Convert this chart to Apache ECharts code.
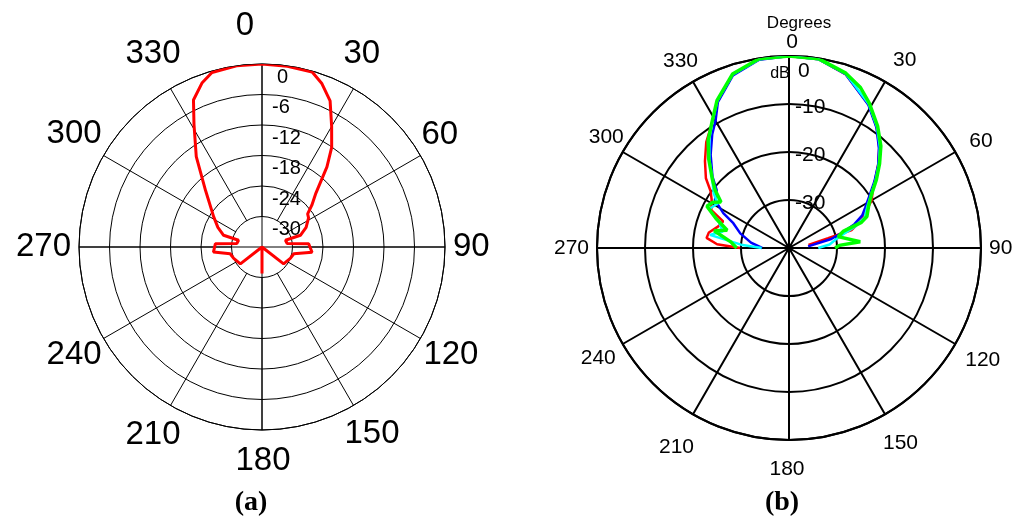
<!DOCTYPE html>
<html>
<head>
<meta charset="utf-8">
<script src="https://cdn.jsdelivr.net/npm/echarts@6/dist/echarts.min.js"></script>
<style>
  html, body { margin: 0; padding: 0; background: #fff; }
  #chart { width: 1024px; height: 530px; }
</style>
</head>
<body>
<div id="chart"></div>
<script>
"use strict";

// (a) 单条红色方向图 (dB)
var angleA = [0, 8, 16, 20, 25, 30, 35, 39, 45, 50, 54, 58, 66, 73, 74, 82, 86, 96, 102, 112, 128, 135, 180, 225, 232, 248, 258, 264, 274, 278, 286, 287, 294, 302, 315, 324, 331, 335, 340, 344, 352, 360];
var valueA = [0, -0.1, -0.2, -1.7, -4.3, -8.6, -12.1, -15.7, -21, -23.2, -24.9, -25.2, -26.5, -28.1, -31.2, -31, -26.8, -26.1, -29.6, -30, -30.6, -36, -30.8, -36, -30.6, -30, -29.6, -26.4, -26.8, -31, -31.2, -28.1, -26.5, -24.8, -20.3, -14, -8.4, -4.1, -1.6, -0.3, 0, 0];
var ticksA = [-36, -30, -24, -18, -12, -6, 0];

// (b) 四条曲线，只画前半球 270 -> 0 -> 90
var angleRed = [270, 273, 277, 281, 287, 292, 296, 302, 306, 310, 316, 322, 328, 334, 342, 351, 0, 9, 18, 29, 36, 42, 47, 52, 56, 60, 65.5, 70, 74, 76, 81];
var valueRed = [-29.8, -25, -22.7, -23, -24.6, -25.2, -22, -21, -19.8, -17.4, -14.8, -12, -9.6, -6, -2, -0.2, 0, -0.2, -1.9, -5.8, -8.9, -11.9, -14.6, -17.3, -19, -20.1, -22.6, -24.5, -26.4, -31.6, -35.9];

var angleBlue = [270, 278, 286.7, 294, 298, 303, 308.7, 313, 320, 326, 330, 334, 342, 351, 0, 9, 18, 29, 36, 42, 47, 52, 57, 62, 66, 70, 74, 78, 85];
var valueBlue = [-34.4, -32, -29.4, -27.3, -24.5, -21.6, -20.7, -18.2, -14.6, -11.4, -9.4, -6.2, -2.2, -0.3, 0, -0.2, -1.9, -5.9, -9, -12, -14.6, -17.4, -20, -22, -23.3, -25.5, -28.5, -31, -36];

var angleCyan = [270, 274, 279.4, 284, 290, 296, 302, 306, 312, 318, 324, 329, 334, 342, 351, 0, 9, 18, 29, 36, 42, 47, 52, 57, 62, 68, 72, 76, 80, 85, 90];
var valueCyan = [-34.3, -30, -23.3, -25.8, -24.5, -21.5, -22.5, -20.6, -18.5, -15.2, -11.8, -9.1, -5.9, -2, -0.2, 0, -0.2, -1.8, -5.7, -8.8, -11.7, -14.4, -17.1, -19.6, -21.5, -23, -25.5, -28.5, -30.2, -31.5, -33.9];

var angleGreen = [270, 276, 283, 286, 292, 297, 301, 304, 308, 312, 318, 323, 329, 334, 342, 351, 0, 9, 18, 24, 29, 36, 42, 47, 52, 57, 62, 68, 70.5, 73, 77, 85, 87, 90];
var valueGreen = [-29.1, -27.8, -24, -26.6, -23.6, -20.8, -21.5, -22.9, -20.5, -18.5, -15, -12, -9, -5.8, -1.9, -0.1, 0, -0.1, -1.7, -3.4, -5.5, -8.6, -11.4, -14.2, -16.9, -19.5, -21.2, -22.5, -24, -28.2, -29.5, -25.1, -29.5, -30.4];
var ticksB = [-40, -30, -20, -10, 0];

var angleTicks = [0, 30, 60, 90, 120, 150, 180, 210, 240, 270, 300, 330];

// 角度标签的微调 [dx, dy]，原图的标签不是严格贴着圆放的
var labelShiftA = { 0: [-17, -14], 30: [-14, -11], 60: [-6, 0], 120: [-4, -4], 150: [-13, 5], 180: [1, 6], 210: [14, 6], 240: [5, -4], 300: [5, -1], 330: [14, -11] };
var labelShiftB = { 0: [3, 5], 30: [4, -4], 60: [7, 4], 120: [3, 2], 150: [-6, 11], 180: [-2, 11], 210: [5, 15], 300: [8, 0], 330: [9, -3] };

var FONT = 'Liberation Sans';

// 把角度和数值组合成 [r, angle]
function toPolar(angles, values) {
	var out = [];
	for (var i = 0; i < angles.length; i++) {
		out.push([values[i], angles[i]]);
	}
	return out;
}

// 按 ECharts 的对齐方式把 [dx, dy] 换成 rich 的 padding
function buildRich(prefix, shifts, size) {
	var rich = {};
	for (var i = 0; i < angleTicks.length; i++) {
		var a = angleTicks[i];
		var s = shifts[a] || [0, 0];
		var dx = s[0], dy = s[1];
		var sn = Math.sin(a * Math.PI / 180), cs = Math.cos(a * Math.PI / 180);
		var pad = [0, 0, 0, 0];
		if (Math.abs(sn) < 0.3) {
			if (dx > 0) pad[3] = 2 * dx; else pad[1] = -2 * dx;
		} else if (sn > 0) {
			pad[3] = dx;
		} else {
			pad[1] = -dx;
		}
		if (Math.abs(cs) < 0.3) {
			if (dy > 0) pad[0] = 2 * dy; else pad[2] = -2 * dy;
		} else if (cs > 0) {
			pad[2] = -dy;
		} else {
			pad[0] = dy;
		}
		rich[prefix + a] = { fontFamily: FONT, fontSize: size, color: '#000', padding: pad };
	}
	return rich;
}

function angleFormatter(prefix) {
	return function (v) {
		if (v === 360) return '';
		return '{' + prefix + v + '|' + v + '}';
	};
}

var centerA = [262, 247];
var centerB = [789, 248];

var myChart = echarts.init(document.getElementById('chart'), null, { renderer: 'canvas' });

var captionRich = {
	p: { fontFamily: 'Liberation Serif', fontSize: 28, color: '#000' },
	b: { fontFamily: 'Liberation Serif', fontSize: 28, fontWeight: 'bold', color: '#000' }
};

var option = {
	animation: false,
	backgroundColor: '#fff',
	title: [
		{ text: 'Degrees', left: 794, top: 10, textAlign: 'center',
		  textStyle: { fontFamily: FONT, fontSize: 17, fontWeight: 'normal', color: '#000' } },
		{ text: 'dB', left: 775, top: 61, textAlign: 'center',
		  textStyle: { fontFamily: FONT, fontSize: 16, fontWeight: 'normal', color: '#000' } },
		{ text: '{p|(}{b|a}{p|)}', left: 246, top: 484, textAlign: 'center', textStyle: { rich: captionRich } },
		{ text: '{p|(}{b|b}{p|)}', left: 777, top: 484, textAlign: 'center', textStyle: { rich: captionRich } }
	],
	polar: [
		{ center: centerA, radius: [0, 183] },   // (a) 数据 + 圆环
		{ center: centerA, radius: [30, 183] },  // (a) 辐射线从 -30 圈开始
		{ center: centerB, radius: [0, 192] }    // (b)
	],
	angleAxis: [
		{
			polarIndex: 0, type: 'value', min: 0, max: 360, interval: 90, startAngle: 90, clockwise: true,
			axisLine: { show: true, lineStyle: { color: '#000', width: 1 } },
			axisTick: { show: false },
			axisLabel: { show: false },
			splitLine: { show: true, lineStyle: { color: '#000', width: 1 } }
		},
		{
			polarIndex: 1, type: 'value', min: 0, max: 360, interval: 30, startAngle: 90, clockwise: true,
			axisLine: { show: false },
			axisTick: { show: false },
			axisLabel: {
				show: true, margin: 8, color: '#000', fontFamily: FONT, fontSize: 33,
				formatter: angleFormatter('a'),
				rich: buildRich('a', labelShiftA, 33)
			},
			splitLine: { show: true, lineStyle: { color: '#000', width: 1 } }
		},
		{
			polarIndex: 2, type: 'value', min: 0, max: 360, interval: 30, startAngle: 90, clockwise: true,
			axisLine: { show: true, lineStyle: { color: '#000', width: 2 } },
			axisTick: { show: false },
			axisLabel: {
				show: true, margin: 8, color: '#000', fontFamily: FONT, fontSize: 21,
				formatter: angleFormatter('b'),
				rich: buildRich('b', labelShiftB, 21)
			},
			splitLine: { show: true, lineStyle: { color: '#000', width: 2 } }
		}
	],
	radiusAxis: [
		{
			polarIndex: 0, type: 'value', min: ticksA[0], max: ticksA[ticksA.length - 1], interval: 6,
			axisLine: { show: false },
			axisTick: { show: false },
			axisLabel: {
				show: true, margin: -10, align: 'left', verticalAlign: 'top',
				color: '#000', fontFamily: FONT, fontSize: 20,
				formatter: function (v) {
					if (v === ticksA[0]) return '';
					if (v === 0) return '{z|0}';
					return '{n|' + v + '}';
				},
				rich: {
					z: { fontFamily: FONT, fontSize: 20, color: '#000', padding: [3, 0, 0, 5] },
					n: { fontFamily: FONT, fontSize: 20, color: '#000', padding: [3, 0, 0, 0] }
				}
			},
			splitLine: { show: true, lineStyle: { color: '#000', width: 1 } }
		},
		{
			polarIndex: 1, type: 'value', min: ticksA[0], max: 0, show: false
		},
		{
			polarIndex: 2, type: 'value', min: ticksB[0], max: ticksB[ticksB.length - 1], interval: 10,
			axisLine: { show: false },
			axisTick: { show: false },
			axisLabel: {
				show: true, margin: -6, align: 'left', verticalAlign: 'middle',
				color: '#000', fontFamily: FONT, fontSize: 21,
				formatter: function (v) {
					if (v === ticksB[0]) return '';
					if (v === 0) return '{z|0}';
					return '{n|' + v + '}';
				},
				rich: {
					z: { fontFamily: FONT, fontSize: 21, color: '#000', padding: [30, 0, 0, 3] },
					n: { fontFamily: FONT, fontSize: 21, color: '#000', padding: [6, 0, 0, 0] }
				}
			},
			splitLine: { show: true, lineStyle: { color: '#000', width: 2 } }
		}
	],
	series: [
		{ name: 'a', type: 'line', coordinateSystem: 'polar', polarIndex: 0, showSymbol: false,
		  lineStyle: { color: '#ff0000', width: 3 }, data: toPolar(angleA, valueA) },
		{ name: 'red', type: 'line', coordinateSystem: 'polar', polarIndex: 2, showSymbol: false,
		  lineStyle: { color: '#ff0000', width: 2.5 }, data: toPolar(angleRed, valueRed) },
		{ name: 'blue', type: 'line', coordinateSystem: 'polar', polarIndex: 2, showSymbol: false,
		  lineStyle: { color: '#0000ff', width: 2.5 }, data: toPolar(angleBlue, valueBlue) },
		{ name: 'cyan', type: 'line', coordinateSystem: 'polar', polarIndex: 2, showSymbol: false,
		  lineStyle: { color: '#00ffff', width: 2.5 }, data: toPolar(angleCyan, valueCyan) },
		{ name: 'green', type: 'line', coordinateSystem: 'polar', polarIndex: 2, showSymbol: false,
		  lineStyle: { color: '#00ff00', width: 3.5 }, data: toPolar(angleGreen, valueGreen) }
	]
};
myChart.setOption(option);
</script>
</body>
</html>
